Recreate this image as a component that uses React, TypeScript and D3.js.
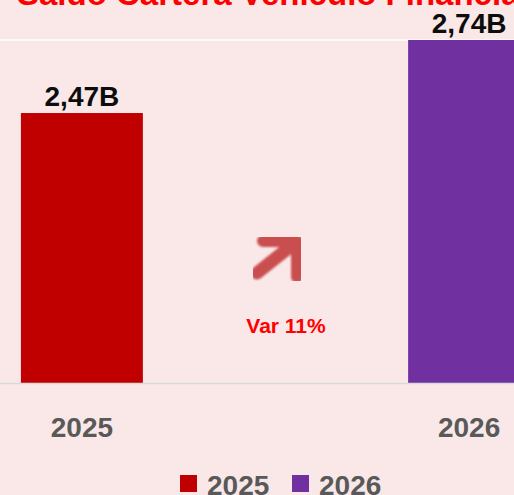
import { useEffect, useRef } from "react";
import * as d3 from "d3";

const years = ["2025", "2026"];
const saldo = [2.47, 2.74];
const saldoLabels = ["2,47B", "2,74B"];
const colors = ["#c00000", "#7030a0"];
const title = "Saldo Cartera Vehículo Financiamiento";
const varLabel = "Var 11%";

const W = 514;
const H = 495;
const font = "'Liberation Sans', Arial, sans-serif";

const App = () => {
  const svgRef = useRef<SVGSVGElement>(null);

  useEffect(() => {
    const svg = d3.select(svgRef.current);
    svg.selectAll("*").remove();

    const x = d3.scaleBand()
      .domain(years)
      .range([0, 551])
      .paddingInner(0.685)
      .paddingOuter(0.054);

    const y = d3.scaleLinear()
      .domain([1.47, 2.74])
      .range([383.5, 40]);

    svg.append("rect")
      .attr("width", W)
      .attr("height", H)
      .attr("fill", "#fae8e8");

    // blur for the arrow shape
    svg.append("defs")
      .append("filter")
      .attr("id", "soft")
      .append("feGaussianBlur")
      .attr("stdDeviation", 0.9);

    // title, cut off at the top
    svg.append("text")
      .attr("x", 17)
      .attr("y", 5)
      .attr("font-family", font)
      .attr("font-weight", "bold")
      .attr("font-size", 33)
      .attr("fill", "#ff0000")
      .text(title);

    // top gridline
    svg.append("line")
      .attr("x1", 0)
      .attr("x2", W)
      .attr("y1", y(2.74))
      .attr("y2", y(2.74))
      .attr("stroke", "#ffffff")
      .attr("stroke-width", 1.5);

    svg.append("g")
      .selectAll("rect")
      .data(years)
      .join("rect")
      .attr("x", d => x(d)!)
      .attr("y", (d, i) => y(saldo[i]))
      .attr("width", x.bandwidth())
      .attr("height", (d, i) => y(1.47) - y(saldo[i]))
      .attr("fill", (d, i) => colors[i]);

    // axis line
    svg.append("line")
      .attr("x1", 0)
      .attr("x2", W)
      .attr("y1", y(1.47))
      .attr("y2", y(1.47))
      .attr("stroke", "#d9d9d9")
      .attr("stroke-width", 1.5);

    svg.append("g")
      .selectAll("text")
      .data(years)
      .join("text")
      .attr("x", d => x(d)! + x.bandwidth() / 2)
      .attr("y", (d, i) => y(saldo[i]) - 7)
      .attr("text-anchor", "middle")
      .attr("font-family", font)
      .attr("font-weight", "bold")
      .attr("font-size", 28)
      .attr("fill", "#0d0d0d")
      .text((d, i) => saldoLabels[i]);

    svg.append("g")
      .selectAll("text")
      .data(years)
      .join("text")
      .attr("x", d => x(d)! + x.bandwidth() / 2)
      .attr("y", 437)
      .attr("text-anchor", "middle")
      .attr("font-family", font)
      .attr("font-weight", "bold")
      .attr("font-size", 28)
      .attr("fill", "#595959")
      .text(d => d);

    // variation arrow + label
    const arrow = svg.append("g")
      .attr("filter", "url(#soft)")
      .attr("fill", "none")
      .attr("stroke", "#c9504f")
      .attr("stroke-linecap", "round")
      .attr("stroke-linejoin", "round");
    arrow.append("path")
      .attr("d", "M263,241 L297,241 L297,277")
      .attr("stroke-width", 12);
    arrow.append("path")
      .attr("d", "M296,242 L257,273")
      .attr("stroke-width", 13);

    svg.append("text")
      .attr("x", 286)
      .attr("y", 333)
      .attr("text-anchor", "middle")
      .attr("font-family", font)
      .attr("font-weight", "bold")
      .attr("font-size", 21)
      .attr("fill", "#ff0000")
      .text(varLabel);

    // legend
    const legend = svg.append("g")
      .selectAll("g")
      .data(years)
      .join("g")
      .attr("transform", (d, i) => `translate(${180 + i * 112},475)`);
    legend.append("rect")
      .attr("width", 17)
      .attr("height", 17)
      .attr("fill", (d, i) => colors[i]);
    legend.append("text")
      .attr("x", 27)
      .attr("y", 20)
      .attr("font-family", font)
      .attr("font-weight", "bold")
      .attr("font-size", 28)
      .attr("fill", "#595959")
      .text(d => d);
  }, []);

  return (
    <svg
      ref={svgRef}
      width={W}
      height={H}
      style={{ position: "absolute", left: 0, top: 0 }}
    ></svg>
  );
};

export default App;
